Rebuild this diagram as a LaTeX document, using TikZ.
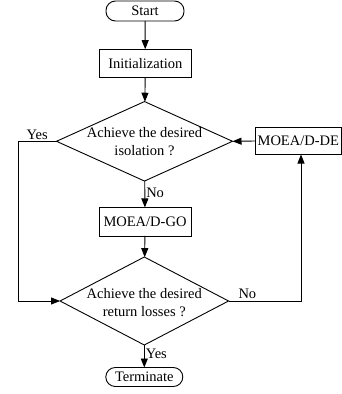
\documentclass[tikz,border=0pt]{standalone}
\usepackage{fontspec}
\setmainfont{Liberation Serif}
\usetikzlibrary{shapes.geometric,arrows.meta}
\begin{document}
\begin{tikzpicture}[x=1pt,y=-1pt,
  every node/.style={font=\fontsize{14.5}{18}\selectfont},
  boxnode/.style={draw,line width=0.9pt,rectangle,inner sep=0pt,outer sep=0pt},
  termnode/.style={draw,line width=0.9pt,rectangle,rounded corners=9.5pt,inner sep=0pt,outer sep=0pt},
  decnode/.style={draw,line width=0.9pt,diamond,inner sep=0pt,outer sep=0pt},
  conn/.style={line width=0.9pt,-{Triangle[length=9pt,width=7pt]}}
]
\useasboundingbox (0,0) rectangle (342,394);
\node[termnode,minimum width=78pt,minimum height=20pt] (start) at (145,11) {Start};
\node[boxnode,minimum width=92.5pt,minimum height=28pt] (init) at (145.3,63.2) {Initialization};
\node[decnode,minimum width=176pt,minimum height=79.5pt] (d1) at (144.5,141.3) {};
\node[align=center,inner sep=0pt] (d1t) at (144.5,142) {Achieve the desired\\isolation ?};
\node[boxnode,minimum width=86pt,minimum height=27pt] (de) at (298.3,141) {MOEA/D-DE};
\node[boxnode,minimum width=92pt,minimum height=28.5pt] (go) at (145,221.7) {MOEA/D-GO};
\node[decnode,minimum width=168.5pt,minimum height=88pt] (d2) at (144.3,301) {};
\node[align=center,inner sep=0pt] (d2t) at (144.3,302.5) {Achieve the desired\\return losses ?};
\node[termnode,minimum width=77pt,minimum height=19pt] (term) at (144.3,377) {Terminate};
\coordinate (yl) at (18,141.3);
\coordinate (nr) at (301,301);
\draw[conn] (start) -- (init);
\draw[conn] (init) -- (d1);
\draw[conn] (d1) -- node[right,pos=0.45,inner sep=1pt] (no1) {No} (go);
\draw[conn] (go) -- (d2);
\draw[conn] (d2) -- node[right,pos=0.4,inner sep=1pt] (yes2) {Yes} (term);
\draw[conn] (d1.west) -- node[above,pos=0.5,inner sep=1pt] (yes1) {Yes} (yl) |- (d2.west);
\draw[conn] (d2.east) -- node[above,pos=0.26,inner sep=1.5pt] (no2) {No} (nr) -- (nr |- de.south);
\draw[conn] (de.west) -- (d1.east);
\end{tikzpicture}
\end{document}
